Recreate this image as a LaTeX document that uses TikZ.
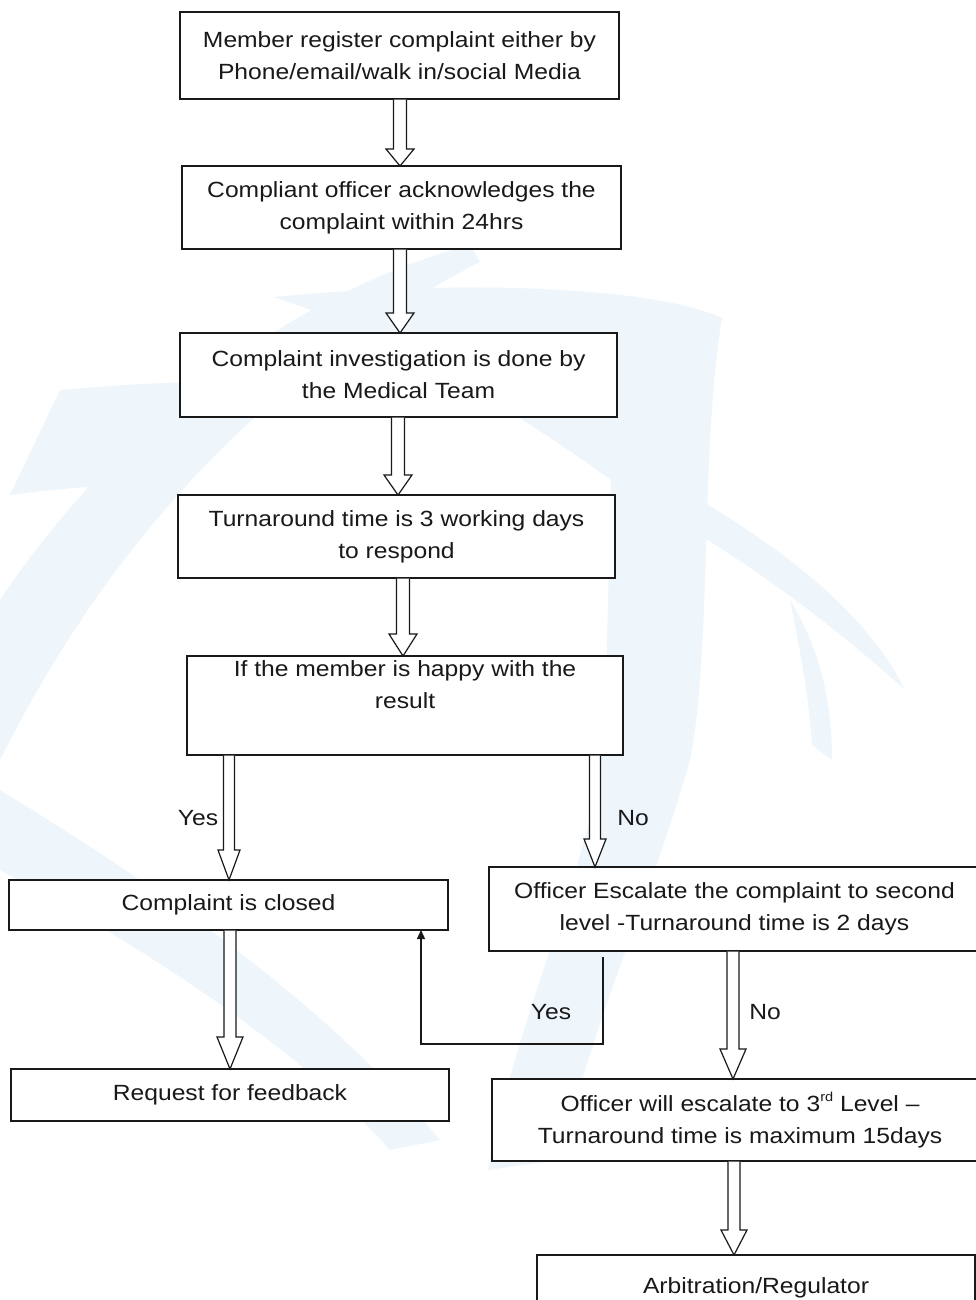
\documentclass[tikz,border=0pt]{standalone}
\usepackage{fontspec}
\setmainfont{Liberation Sans}[FakeStretch=1.12]
\usetikzlibrary{arrows.meta,calc}
\definecolor{wm}{RGB}{238,246,252}
\definecolor{ink}{RGB}{25,25,25}
\tikzset{
  box/.style={draw=ink, line width=1.2pt, fill=white, inner sep=0pt, outer sep=0pt,
    align=center, text=ink, font=\fontsize{22pt}{32pt}\selectfont},
  harr/.style={draw=ink, line width=1.2pt, fill=white, line join=miter},
  conn/.style={draw=ink, line width=1.2pt, -{Triangle[length=9pt,width=8pt]}},
  lbl/.style={text=ink, inner sep=0pt, font=\fontsize{22pt}{32pt}\selectfont}
}
\newcommand\supr[1]{\raisebox{0.42em}{\fontsize{13pt}{13pt}\selectfont #1}}
% #1 x centre, #2 start anchor, #3 end anchor, #4 shaft half width, #5 head half width, #6 head length
\newcommand\hollowarr[6]{%
  \draw[harr] let \p1=(#2), \p2=(#3) in
    (#1-#4,\y1-0.6) -- (#1-#4,\y2+#6) -- (#1-#5,\y2+#6) -- (#1,\y2)
    -- (#1+#5,\y2+#6) -- (#1+#4,\y2+#6) -- (#1+#4,\y1-0.6);}
\begin{document}
\begin{tikzpicture}[x=1pt,y=1pt]
\useasboundingbox (0,0) rectangle (976,-1300);
\fill[white] (0,0) rectangle (976,-1300);
% watermark
\begin{scope}[fill=wm]
\fill (273,-297) .. controls (450,-280) and (650,-285) .. (722,-318)
  .. controls (700,-450) and (712,-650) .. (690,-760)
  .. controls (650,-900) and (600,-1000) .. (560,-1160) -- (488,-1170)
  .. controls (520,-1000) and (600,-850) .. (605,-720) -- (611,-480)
  .. controls (500,-400) and (380,-330) .. (273,-297) -- cycle;
\fill (470,-245) .. controls (300,-290) and (120,-420) .. (0,-600) -- (0,-760)
  .. controls (100,-560) and (250,-380) .. (480,-262) -- cycle;
\fill (60,-390) .. controls (120,-385) and (190,-380) .. (230,-383) -- (190,-482)
  .. controls (120,-484) and (60,-488) .. (10,-495) -- cycle;
\fill (0,-870) .. controls (150,-950) and (300,-1050) .. (390,-1150) -- (440,-1140)
  .. controls (330,-1010) and (180,-900) .. (0,-790) -- cycle;
\fill (700,-500) .. controls (800,-560) and (870,-620) .. (905,-690)
  .. controls (850,-640) and (780,-585) .. (700,-535) -- cycle;
\fill (790,-600) .. controls (820,-650) and (832,-700) .. (832,-760) -- (812,-745)
  .. controls (808,-690) and (800,-650) .. (790,-600) -- cycle;
\end{scope}
% boxes
\node[box, minimum width=439pt, minimum height=87pt] (b1) at (399.5,-55.5)
  {Member register complaint either by\\Phone/email/walk in/social Media};
\node[box, minimum width=439pt, minimum height=83pt] (b2) at (401.5,-207.5)
  {Compliant officer acknowledges the\\complaint within 24hrs};
\node[box, minimum width=437pt, minimum height=84pt] (b3) at (398.5,-375)
  {Complaint investigation is done by\\the Medical Team};
\node[box, minimum width=437pt, minimum height=83pt] (b4) at (396.5,-536.5)
  {Turnaround time is 3 working days\\to respond};
\node[box, minimum width=436pt, minimum height=99pt] (b5) at (405,-705.5)
  {If the member is happy with the\\result\\ \strut};
\node[box, minimum width=439pt, minimum height=50pt] (b6) at (228.5,-905)
  {Complaint is closed};
\node[box, minimum width=491pt, minimum height=84pt] (b7) at (734.5,-909)
  {Officer Escalate the complaint to second\\level -Turnaround time is 2 days};
\node[box, minimum width=438pt, minimum height=52pt] (b8) at (230,-1095)
  {Request for feedback};
\node[box, minimum width=496pt, minimum height=82pt] (b9) at (740,-1120)
  {Officer will escalate to 3\supr{rd} Level –\\Turnaround time is maximum 15days};
\node[box, minimum width=438pt, minimum height=65pt] (b10) at (756,-1287.5)
  {Arbitration/Regulator};
% hollow block arrows
\hollowarr{400}{b1.south}{b2.north}{6.5}{14}{17}
\hollowarr{400}{b2.south}{b3.north}{6.5}{14}{20}
\hollowarr{398}{b3.south}{b4.north}{6.5}{14}{20}
\hollowarr{403}{b4.south}{b5.north}{6.5}{14}{22}
\hollowarr{229}{b5.south}{b6.north}{5.5}{11}{30}
\hollowarr{595}{b5.south}{b7.north}{5.5}{11}{28}
\hollowarr{230}{b6.south}{b8.north}{6}{13}{32}
\hollowarr{733}{b7.south}{b9.north}{6}{13}{30}
\hollowarr{734}{b9.south}{b10.north}{6}{13}{25}
% thin connector back to closed
\draw[conn] ([xshift=114pt,yshift=-6pt]b7.south west) -- ++(0,-87)
  -| ([xshift=-27pt]b6.south east);
% labels
\node[lbl] (yes1) at (198,-818) {Yes};
\node[lbl] (no1) at (633,-818) {No};
\node[lbl] (yes2) at (551,-1012) {Yes};
\node[lbl] (no2) at (765,-1012) {No};
\end{tikzpicture}
\end{document}
